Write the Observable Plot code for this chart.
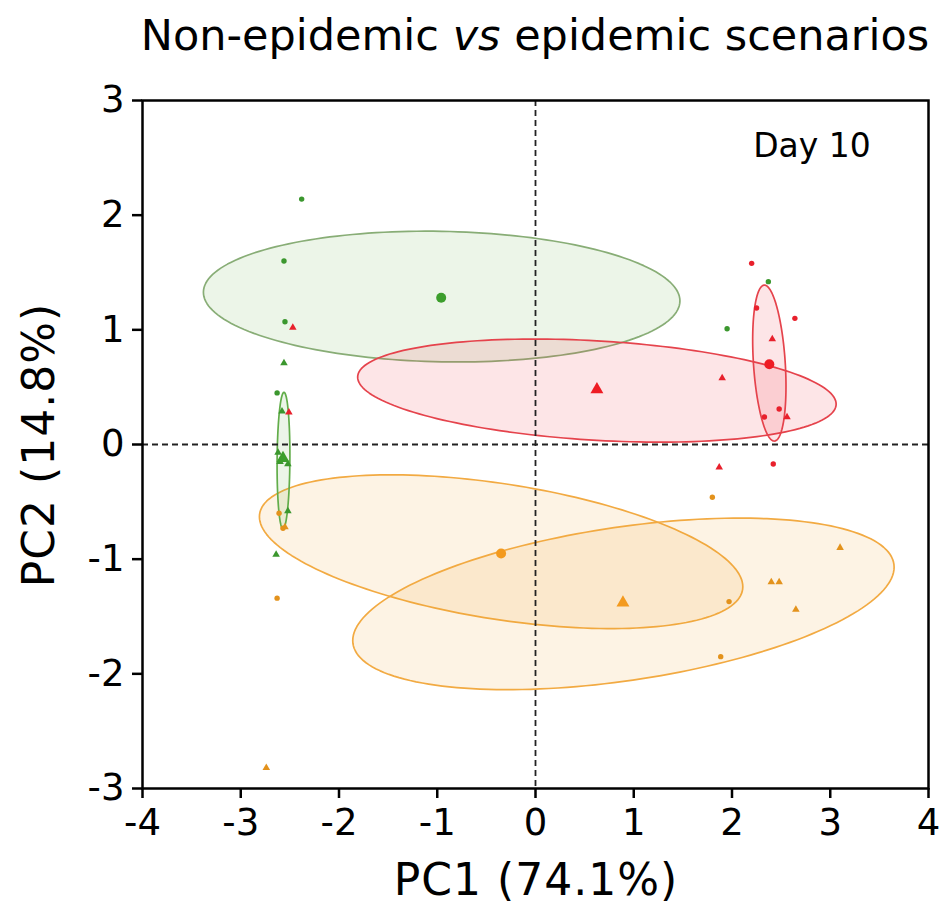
<!DOCTYPE html>
<html><head><meta charset="utf-8">
<script src="https://cdn.jsdelivr.net/npm/d3@7"></script>
<script src="https://cdn.jsdelivr.net/npm/@observablehq/plot@0.6"></script>
<style>body{margin:0;background:#fff}</style>
</head><body><div id="chart"></div>
<script>
// ---- data (PC1, PC2) ----
const greenCircle    = [[-2.38,2.14],[-2.56,1.60],[-2.55,1.07],[-2.63,0.45],[2.37,1.42],[1.95,1.01]];
const greenTriangle  = [[-2.56,0.71],[-2.58,0.29],[-2.62,-0.07],[-2.60,-0.15],[-2.52,-0.17],[-2.52,-0.58],[-2.64,-0.96]];
const redCircle      = [[2.20,1.58],[2.25,1.19],[2.64,1.10],[2.48,0.31],[2.33,0.24],[2.42,-0.17]];
const redTriangle    = [[-2.47,1.02],[-2.51,0.28],[2.41,0.92],[1.90,0.58],[2.56,0.24],[1.87,-0.20]];
const orangeCircle   = [[-2.61,-0.60],[-2.57,-0.73],[-2.63,-1.34],[1.80,-0.46],[1.97,-1.37],[1.885,-1.85]];
const orangeTriangle = [[-2.74,-2.82],[-2.55,-0.72],[3.10,-0.90],[2.40,-1.20],[2.48,-1.20],[2.65,-1.44]];

// group means
const greenCircleMean    = [[-0.96,1.28]];
const greenTriangleMean  = [[-2.57,-0.12]];
const redCircleMean      = [[2.38,0.70]];
const redTriangleMean    = [[0.625,0.48]];
const orangeCircleMean   = [[-0.35,-0.95]];
const orangeTriangleMean = [[0.89,-1.38]];

// confidence ellipses: [cx, cy, A, B, C, D]  x = cx + A cos t + B sin t, y = cy + C cos t + D sin t
const greenCircleEllipse    = [-0.955, 1.29, 2.425, 0, -0.0375, 0.569];
const greenTriangleEllipse  = [-2.565, -0.14, 0.005, 0.065, 0.595, 0];
const redCircleEllipse      = [2.38, 0.71, -0.05, 0.162, 0.68, 0];
const redTriangleEllipse    = [0.625, 0.47, 2.435, 0, -0.1175, 0.434];
const orangeCircleEllipse   = [-0.35, -0.935, 2.46, 0, -0.305, 0.597];
const orangeTriangleEllipse = [0.895, -1.39, 2.755, 0, 0.32, 0.676];

const xTicks = [-4,-3,-2,-1,0,1,2,3,4];
const yTicks = [-3,-2,-1,0,1,2,3];

// ---- build ----
function ellipsePts(p){
  const [cx,cy,A,B,C,D] = p;
  return d3.range(0, 181).map(i => {
    const t = i/180*2*Math.PI;
    return [cx + A*Math.cos(t) + B*Math.sin(t), cy + C*Math.cos(t) + D*Math.sin(t)];
  });
}
const G = {pt:"#3b972e", stroke:"#88ad76", thin:"#62ad4a", fill:"#6fb050"};
const R = {pt:"#e8202c", stroke:"#e5434c", fill:"#f03848"};
const O = {pt:"#e3921c", mean:"#f39a1e", stroke:"#f2aa42", fill:"#f2a232"};
const FO = 0.13;

function ell(p, stroke, fill){
  return Plot.line(ellipsePts(p), {x: d=>d[0], y: d=>d[1], stroke, strokeWidth:1.7, fill, fillOpacity:FO, curve:"linear-closed"});
}
function dots(arr, symbol, r, fill){
  return Plot.dot(arr, {x: d=>d[0], y: d=>d[1], symbol, r, fill, stroke:"none"});
}

const FONT = "DejaVu Sans, Liberation Sans, sans-serif";
const chart = Plot.plot({
  width: 946, height: 922,
  marginLeft: 142, marginRight: 18, marginTop: 100, marginBottom: 134,
  style: {fontFamily: FONT, background: "#fff", color: "#000"},
  x: {domain: [-4, 4]},
  y: {domain: [-3, 3]},
  marks: [
    ell(greenCircleEllipse, G.stroke, G.fill),
    ell(redTriangleEllipse, R.stroke, R.fill),
    ell(redCircleEllipse, R.stroke, R.fill),
    ell(orangeCircleEllipse, O.stroke, O.fill),
    ell(orangeTriangleEllipse, O.stroke, O.fill),
    ell(greenTriangleEllipse, G.thin, G.fill),
    Plot.ruleY([0], {stroke:"#222", strokeWidth:1.8, strokeDasharray:"6,4"}),
    Plot.ruleX([0], {stroke:"#222", strokeWidth:1.8, strokeDasharray:"6,4"}),
    dots(greenCircle, "circle", 2.7, G.pt),
    dots(greenTriangle, "triangle", 2.8, G.pt),
    dots(redCircle, "circle", 2.7, R.pt),
    dots(redTriangle, "triangle", 2.8, R.pt),
    dots(orangeCircle, "circle", 2.7, O.pt),
    dots(orangeTriangle, "triangle", 2.8, O.pt),
    dots(greenCircleMean, "circle", 5, "#3c9e2c"),
    dots(greenTriangleMean, "triangle", 4.8, "#3c9e2c"),
    dots(redCircleMean, "circle", 5, "#ee1c24"),
    dots(redTriangleMean, "triangle", 4.8, "#ee1c24"),
    dots(orangeCircleMean, "circle", 5, O.mean),
    dots(orangeTriangleMean, "triangle", 4.8, O.mean),
    Plot.frame({stroke:"#000", strokeWidth:2.5}),
    Plot.axisX({ticks: xTicks, tickFormat: d => String(d), tickSize: 10, tickPadding: 10, fontSize: 37, strokeWidth: 2.5, label: null}),
    Plot.axisY({ticks: yTicks, tickFormat: d => String(d), tickSize: 10, tickPadding: 8, fontSize: 37, strokeWidth: 2.5, label: null})
  ]
});
document.getElementById("chart").appendChild(chart);

// titles and labels
const svg = d3.select(chart);
const title = svg.append("text").attr("x", 535).attr("y", 50).attr("text-anchor","middle")
  .attr("font-size", 43).attr("font-family", FONT).attr("fill", "#000");
title.append("tspan").text("Non-epidemic ");
title.append("tspan").attr("font-style","italic").text("vs");
title.append("tspan").text(" epidemic scenarios");

svg.append("text").attr("x", 536).attr("y", 895).attr("text-anchor","middle")
  .attr("font-size", 44).attr("letter-spacing", 1).attr("font-family", FONT).attr("fill","#000").text("PC1 (74.1%)");
svg.append("text").attr("transform","translate(54,445) rotate(-90)").attr("text-anchor","middle")
  .attr("font-size", 44).attr("letter-spacing", 1).attr("font-family", FONT).attr("fill","#000").text("PC2 (14.8%)");
svg.append("text").attr("x", 812).attr("y", 157).attr("text-anchor","middle")
  .attr("font-size", 33).attr("font-family", FONT).attr("fill","#000").text("Day 10");
</script>
</body></html>
